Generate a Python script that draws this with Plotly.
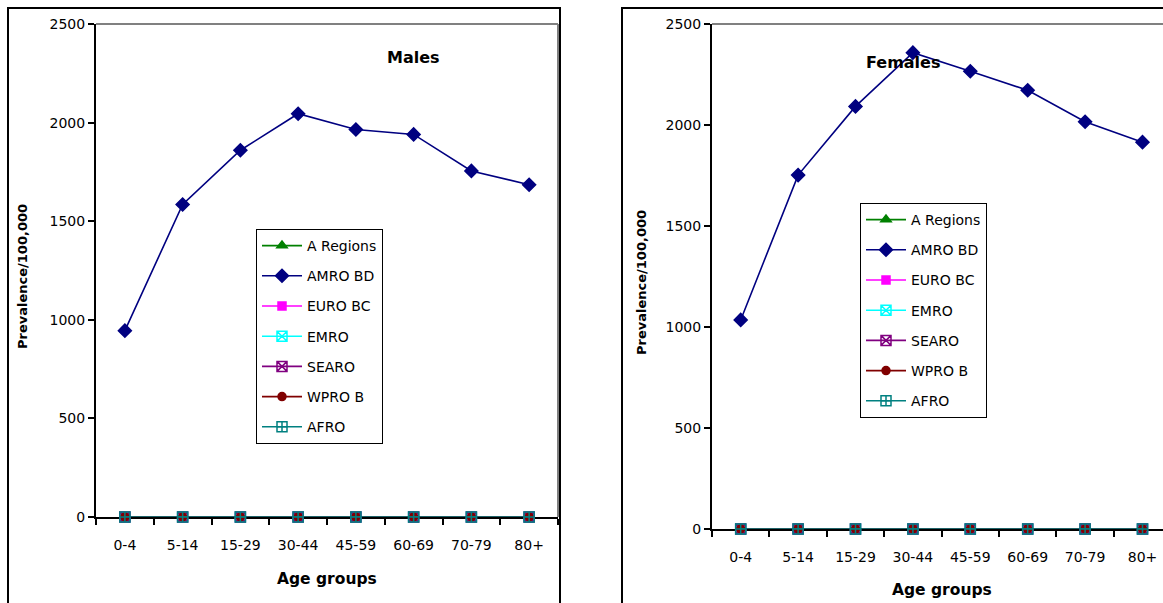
import plotly.graph_objects as go

# Age groups on the category axis
age_groups = ["0-4", "5-14", "15-29", "30-44", "45-59", "60-69", "70-79", "80+"]

# Prevalence per 100,000 by region, males
males_a_regions = [0, 0, 0, 0, 0, 0, 0, 0]
males_amro_bd = [945, 1585, 1860, 2045, 1965, 1940, 1755, 1685]
males_euro_bc = [0, 0, 0, 0, 0, 0, 0, 0]
males_emro = [0, 0, 0, 0, 0, 0, 0, 0]
males_searo = [0, 0, 0, 0, 0, 0, 0, 0]
males_wpro_b = [0, 0, 0, 0, 0, 0, 0, 0]
males_afro = [0, 0, 0, 0, 0, 0, 0, 0]

# Prevalence per 100,000 by region, females
females_a_regions = [0, 0, 0, 0, 0, 0, 0, 0]
females_amro_bd = [1035, 1752, 2092, 2358, 2266, 2172, 2016, 1915]
females_euro_bc = [0, 0, 0, 0, 0, 0, 0, 0]
females_emro = [0, 0, 0, 0, 0, 0, 0, 0]
females_searo = [0, 0, 0, 0, 0, 0, 0, 0]
females_wpro_b = [0, 0, 0, 0, 0, 0, 0, 0]
females_afro = [0, 0, 0, 0, 0, 0, 0, 0]

region_names = ["A Regions", "AMRO BD", "EURO BC", "EMRO", "SEARO", "WPRO B", "AFRO"]
y_ticks = [0, 500, 1000, 1500, 2000, 2500]

styles = [
    dict(color="#008000", symbol="triangle-up", size=9),
    dict(color="#000080", symbol="diamond", size=10),
    dict(color="#FF00FF", symbol="square", size=8),
    dict(color="#00FFFF", symbol="square-x-open", size=10),
    dict(color="#800080", symbol="square-x-open", size=10),
    dict(color="#800000", symbol="circle", size=8),
    dict(color="#008080", symbol="square-cross-open", size=10),
]

males = [males_a_regions, males_amro_bd, males_euro_bc, males_emro,
         males_searo, males_wpro_b, males_afro]
females = [females_a_regions, females_amro_bd, females_euro_bc, females_emro,
           females_searo, females_wpro_b, females_afro]

W, H = 1163, 603
FONT = "DejaVu Sans"


def px(x):
    return x / W


def py(y):
    return 1 - y / H


fig = go.Figure()

for series, xa, ya, lg in [(males, "x", "y", "legend"),
                           (females, "x2", "y2", "legend2")]:
    for name, vals, st in zip(region_names, series, styles):
        fig.add_trace(go.Scatter(
            x=age_groups, y=vals, name=name, mode="lines+markers",
            xaxis=xa, yaxis=ya, legend=lg, legendgroup=f"{lg}-{name}",
            line=dict(color=st["color"], width=1.6),
            marker=dict(color=st["color"], symbol=st["symbol"], size=st["size"],
                        line=dict(color=st["color"], width=1.5)),
            cliponaxis=False,
        ))

axis_common = dict(
    showline=True, linecolor="black", linewidth=2,
    ticks="outside", ticklen=6, tickcolor="black", tickwidth=1.5,
    showgrid=False, zeroline=False, layer="below traces",
    tickfont=dict(family=FONT, size=14, color="black"),
)

# Left panel: plot area 96..558 px wide, 24..517 px tall
x1_dom = [px(96), px(558)]
y1_dom = [py(517), py(24)]
# Right panel: axis continues past the right edge of the page
x2_dom = [px(712), 1.0]
y2_dom = [py(529), py(24)]
x2_span = (W - 712) / 57.4

legend_common = dict(xanchor="left", yanchor="top", bgcolor="white",
                     bordercolor="black", borderwidth=1, tracegroupgap=9,
                     itemwidth=40,
                     font=dict(family=FONT, size=14, color="black"))

fig.update_layout(
    width=W, height=H,
    margin=dict(l=0, r=0, t=0, b=0, pad=0, autoexpand=False),
    paper_bgcolor="white", plot_bgcolor="white",
    showlegend=True,
    xaxis=dict(domain=x1_dom, anchor="y", type="category", range=[-0.5, 7.5],
               tickson="boundaries", ticklabelstandoff=14, **axis_common),
    yaxis=dict(domain=y1_dom, anchor="x", range=[0, 2500], tickvals=y_ticks,
               **axis_common),
    xaxis2=dict(domain=x2_dom, anchor="y2", type="category",
                range=[-0.5, -0.5 + x2_span], tickson="boundaries",
                ticklabelstandoff=14, **axis_common),
    yaxis2=dict(domain=y2_dom, anchor="x2", range=[0, 2500], tickvals=y_ticks,
                **axis_common),
    legend=dict(x=px(256), y=py(229), **legend_common),
    legend2=dict(x=px(860), y=py(203), **legend_common),
)

shapes = [
    # chart frames
    dict(type="rect", xref="paper", yref="paper", x0=px(8), x1=px(560),
         y0=-0.05, y1=py(8), line=dict(color="black", width=2)),
    dict(type="rect", xref="paper", yref="paper", x0=px(622), x1=1.05,
         y0=-0.05, y1=py(8), line=dict(color="black", width=2)),
    # grey plot-area border, top and right
    dict(type="line", xref="x domain", yref="y domain", x0=0, x1=1, y0=1, y1=1,
         line=dict(color="#808080", width=2)),
    dict(type="line", xref="x domain", yref="y domain", x0=1, x1=1, y0=0, y1=1,
         line=dict(color="#808080", width=2)),
    dict(type="line", xref="x2 domain", yref="y2 domain", x0=0, x1=1, y0=1, y1=1,
         line=dict(color="#808080", width=2)),
]
fig.update_layout(shapes=shapes)

title_font = dict(family=FONT, size=16, color="black")
axis_title_font = dict(family=FONT, size=15.5, color="black")
y_title_font = dict(family=FONT, size=13, color="black")
annotations = [
    dict(text="<b>Males</b>", x=px(413), y=py(57), font=title_font),
    dict(text="<b>Females</b>", x=px(903), y=py(63), font=title_font),
    dict(text="<b>Age groups</b>", x=px(327), y=py(579), font=axis_title_font),
    dict(text="<b>Age groups</b>", x=px(942), y=py(590), font=axis_title_font),
    dict(text="<b>Prevalence/100,000</b>", x=px(22), y=py(277), textangle=-90,
         font=y_title_font),
    dict(text="<b>Prevalence/100,000</b>", x=px(641), y=py(283), textangle=-90,
         font=y_title_font),
]
for a in annotations:
    fig.add_annotation(xref="paper", yref="paper", xanchor="center",
                       yanchor="middle", showarrow=False, **a)

fig.write_html("out.html")
